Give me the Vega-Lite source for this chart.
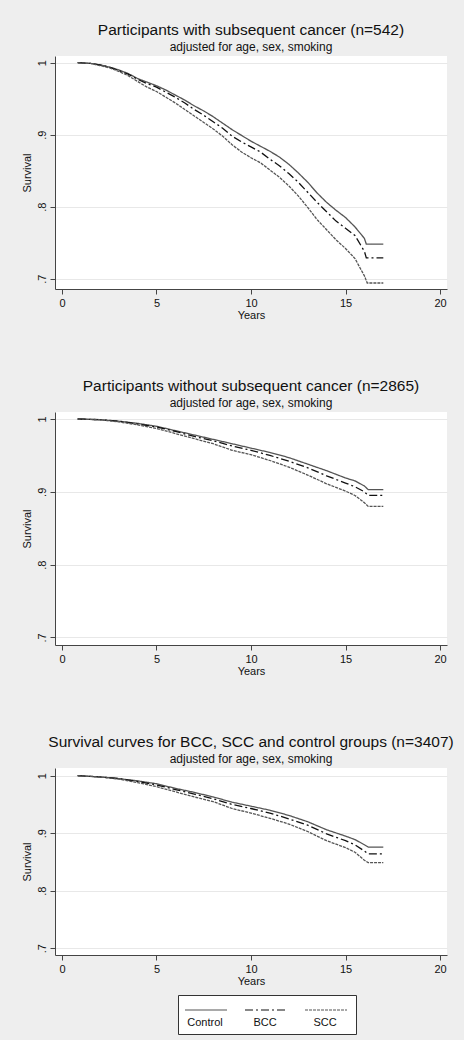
{
"$schema":"https://vega.github.io/schema/vega-lite/v6.json",
"padding":{"left":21,"top":22,"right":10,"bottom":5},
"spacing":58,
"datasets":{"km":[
{"p":1,"g":"Control","t":0.83,"s":1.0},{"p":1,"g":"Control","t":1.5,"s":0.999},{"p":1,"g":"Control","t":2,"s":0.997},{"p":1,"g":"Control","t":2.5,"s":0.994},{"p":1,"g":"Control","t":3,"s":0.99},{"p":1,"g":"Control","t":3.5,"s":0.985},{"p":1,"g":"Control","t":4,"s":0.978},{"p":1,"g":"Control","t":4.5,"s":0.973},{"p":1,"g":"Control","t":5,"s":0.968},{"p":1,"g":"Control","t":5.5,"s":0.962},{"p":1,"g":"Control","t":6,"s":0.955},{"p":1,"g":"Control","t":6.5,"s":0.948},{"p":1,"g":"Control","t":7,"s":0.94},{"p":1,"g":"Control","t":7.5,"s":0.933},{"p":1,"g":"Control","t":8,"s":0.925},{"p":1,"g":"Control","t":8.5,"s":0.916},{"p":1,"g":"Control","t":9,"s":0.907},{"p":1,"g":"Control","t":9.5,"s":0.899},{"p":1,"g":"Control","t":10,"s":0.891},{"p":1,"g":"Control","t":10.5,"s":0.884},{"p":1,"g":"Control","t":11,"s":0.877},{"p":1,"g":"Control","t":11.5,"s":0.869},{"p":1,"g":"Control","t":12,"s":0.859},{"p":1,"g":"Control","t":12.5,"s":0.847},{"p":1,"g":"Control","t":13,"s":0.834},{"p":1,"g":"Control","t":13.5,"s":0.819},{"p":1,"g":"Control","t":14,"s":0.806},{"p":1,"g":"Control","t":14.5,"s":0.795},{"p":1,"g":"Control","t":15,"s":0.785},{"p":1,"g":"Control","t":15.5,"s":0.772},{"p":1,"g":"Control","t":16,"s":0.756},{"p":1,"g":"Control","t":16.1,"s":0.748},{"p":1,"g":"Control","t":17,"s":0.748},
{"p":1,"g":"BCC","t":0.83,"s":1.0},{"p":1,"g":"BCC","t":1.5,"s":0.999},{"p":1,"g":"BCC","t":2,"s":0.997},{"p":1,"g":"BCC","t":2.5,"s":0.994},{"p":1,"g":"BCC","t":3,"s":0.989},{"p":1,"g":"BCC","t":3.5,"s":0.984},{"p":1,"g":"BCC","t":4,"s":0.977},{"p":1,"g":"BCC","t":4.5,"s":0.971},{"p":1,"g":"BCC","t":5,"s":0.966},{"p":1,"g":"BCC","t":5.5,"s":0.959},{"p":1,"g":"BCC","t":6,"s":0.952},{"p":1,"g":"BCC","t":6.5,"s":0.944},{"p":1,"g":"BCC","t":7,"s":0.935},{"p":1,"g":"BCC","t":7.5,"s":0.927},{"p":1,"g":"BCC","t":8,"s":0.918},{"p":1,"g":"BCC","t":8.5,"s":0.909},{"p":1,"g":"BCC","t":9,"s":0.898},{"p":1,"g":"BCC","t":9.5,"s":0.89},{"p":1,"g":"BCC","t":10,"s":0.883},{"p":1,"g":"BCC","t":10.5,"s":0.876},{"p":1,"g":"BCC","t":11,"s":0.866},{"p":1,"g":"BCC","t":11.5,"s":0.857},{"p":1,"g":"BCC","t":12,"s":0.846},{"p":1,"g":"BCC","t":12.5,"s":0.834},{"p":1,"g":"BCC","t":13,"s":0.82},{"p":1,"g":"BCC","t":13.5,"s":0.806},{"p":1,"g":"BCC","t":14,"s":0.793},{"p":1,"g":"BCC","t":14.5,"s":0.78},{"p":1,"g":"BCC","t":15,"s":0.77},{"p":1,"g":"BCC","t":15.5,"s":0.76},{"p":1,"g":"BCC","t":16,"s":0.738},{"p":1,"g":"BCC","t":16.1,"s":0.729},{"p":1,"g":"BCC","t":17,"s":0.729},
{"p":1,"g":"SCC","t":0.83,"s":1.0},{"p":1,"g":"SCC","t":1.5,"s":0.999},{"p":1,"g":"SCC","t":2,"s":0.996},{"p":1,"g":"SCC","t":2.5,"s":0.993},{"p":1,"g":"SCC","t":3,"s":0.988},{"p":1,"g":"SCC","t":3.5,"s":0.982},{"p":1,"g":"SCC","t":4,"s":0.974},{"p":1,"g":"SCC","t":4.5,"s":0.966},{"p":1,"g":"SCC","t":5,"s":0.96},{"p":1,"g":"SCC","t":5.5,"s":0.952},{"p":1,"g":"SCC","t":6,"s":0.944},{"p":1,"g":"SCC","t":6.5,"s":0.935},{"p":1,"g":"SCC","t":7,"s":0.926},{"p":1,"g":"SCC","t":7.5,"s":0.917},{"p":1,"g":"SCC","t":8,"s":0.908},{"p":1,"g":"SCC","t":8.5,"s":0.898},{"p":1,"g":"SCC","t":9,"s":0.886},{"p":1,"g":"SCC","t":9.5,"s":0.876},{"p":1,"g":"SCC","t":10,"s":0.868},{"p":1,"g":"SCC","t":10.5,"s":0.861},{"p":1,"g":"SCC","t":11,"s":0.851},{"p":1,"g":"SCC","t":11.5,"s":0.841},{"p":1,"g":"SCC","t":12,"s":0.829},{"p":1,"g":"SCC","t":12.5,"s":0.815},{"p":1,"g":"SCC","t":13,"s":0.799},{"p":1,"g":"SCC","t":13.5,"s":0.782},{"p":1,"g":"SCC","t":14,"s":0.768},{"p":1,"g":"SCC","t":14.5,"s":0.754},{"p":1,"g":"SCC","t":15,"s":0.742},{"p":1,"g":"SCC","t":15.5,"s":0.728},{"p":1,"g":"SCC","t":16,"s":0.704},{"p":1,"g":"SCC","t":16.15,"s":0.694},{"p":1,"g":"SCC","t":17,"s":0.694},
{"p":2,"g":"Control","t":0.83,"s":1.0},{"p":2,"g":"Control","t":2,"s":0.999},{"p":2,"g":"Control","t":3,"s":0.997},{"p":2,"g":"Control","t":4,"s":0.994},{"p":2,"g":"Control","t":5,"s":0.99},{"p":2,"g":"Control","t":6,"s":0.984},{"p":2,"g":"Control","t":7,"s":0.978},{"p":2,"g":"Control","t":8,"s":0.972},{"p":2,"g":"Control","t":9,"s":0.966},{"p":2,"g":"Control","t":10,"s":0.96},{"p":2,"g":"Control","t":11,"s":0.954},{"p":2,"g":"Control","t":12,"s":0.947},{"p":2,"g":"Control","t":13,"s":0.938},{"p":2,"g":"Control","t":14,"s":0.929},{"p":2,"g":"Control","t":15,"s":0.919},{"p":2,"g":"Control","t":15.5,"s":0.915},{"p":2,"g":"Control","t":16,"s":0.908},{"p":2,"g":"Control","t":16.2,"s":0.903},{"p":2,"g":"Control","t":17,"s":0.903},
{"p":2,"g":"BCC","t":0.83,"s":1.0},{"p":2,"g":"BCC","t":2,"s":0.999},{"p":2,"g":"BCC","t":3,"s":0.997},{"p":2,"g":"BCC","t":4,"s":0.993},{"p":2,"g":"BCC","t":5,"s":0.989},{"p":2,"g":"BCC","t":6,"s":0.983},{"p":2,"g":"BCC","t":7,"s":0.976},{"p":2,"g":"BCC","t":8,"s":0.97},{"p":2,"g":"BCC","t":9,"s":0.963},{"p":2,"g":"BCC","t":10,"s":0.957},{"p":2,"g":"BCC","t":11,"s":0.95},{"p":2,"g":"BCC","t":12,"s":0.942},{"p":2,"g":"BCC","t":13,"s":0.933},{"p":2,"g":"BCC","t":14,"s":0.922},{"p":2,"g":"BCC","t":15,"s":0.912},{"p":2,"g":"BCC","t":15.5,"s":0.907},{"p":2,"g":"BCC","t":16,"s":0.9},{"p":2,"g":"BCC","t":16.2,"s":0.895},{"p":2,"g":"BCC","t":17,"s":0.895},
{"p":2,"g":"SCC","t":0.83,"s":1.0},{"p":2,"g":"SCC","t":2,"s":0.999},{"p":2,"g":"SCC","t":3,"s":0.996},{"p":2,"g":"SCC","t":4,"s":0.992},{"p":2,"g":"SCC","t":5,"s":0.987},{"p":2,"g":"SCC","t":6,"s":0.98},{"p":2,"g":"SCC","t":7,"s":0.973},{"p":2,"g":"SCC","t":8,"s":0.966},{"p":2,"g":"SCC","t":9,"s":0.957},{"p":2,"g":"SCC","t":10,"s":0.951},{"p":2,"g":"SCC","t":11,"s":0.943},{"p":2,"g":"SCC","t":12,"s":0.934},{"p":2,"g":"SCC","t":13,"s":0.923},{"p":2,"g":"SCC","t":14,"s":0.911},{"p":2,"g":"SCC","t":15,"s":0.901},{"p":2,"g":"SCC","t":15.5,"s":0.895},{"p":2,"g":"SCC","t":16,"s":0.885},{"p":2,"g":"SCC","t":16.2,"s":0.88},{"p":2,"g":"SCC","t":17,"s":0.88},
{"p":3,"g":"Control","t":0.83,"s":1.0},{"p":3,"g":"Control","t":2,"s":0.998},{"p":3,"g":"Control","t":3,"s":0.995},{"p":3,"g":"Control","t":4,"s":0.991},{"p":3,"g":"Control","t":5,"s":0.986},{"p":3,"g":"Control","t":6,"s":0.978},{"p":3,"g":"Control","t":7,"s":0.971},{"p":3,"g":"Control","t":8,"s":0.963},{"p":3,"g":"Control","t":9,"s":0.954},{"p":3,"g":"Control","t":10,"s":0.947},{"p":3,"g":"Control","t":11,"s":0.94},{"p":3,"g":"Control","t":12,"s":0.931},{"p":3,"g":"Control","t":13,"s":0.92},{"p":3,"g":"Control","t":14,"s":0.906},{"p":3,"g":"Control","t":15,"s":0.895},{"p":3,"g":"Control","t":15.5,"s":0.889},{"p":3,"g":"Control","t":16,"s":0.88},{"p":3,"g":"Control","t":16.2,"s":0.876},{"p":3,"g":"Control","t":17,"s":0.876},
{"p":3,"g":"BCC","t":0.83,"s":1.0},{"p":3,"g":"BCC","t":2,"s":0.998},{"p":3,"g":"BCC","t":3,"s":0.995},{"p":3,"g":"BCC","t":4,"s":0.99},{"p":3,"g":"BCC","t":5,"s":0.984},{"p":3,"g":"BCC","t":6,"s":0.976},{"p":3,"g":"BCC","t":7,"s":0.968},{"p":3,"g":"BCC","t":8,"s":0.96},{"p":3,"g":"BCC","t":9,"s":0.95},{"p":3,"g":"BCC","t":10,"s":0.943},{"p":3,"g":"BCC","t":11,"s":0.935},{"p":3,"g":"BCC","t":12,"s":0.925},{"p":3,"g":"BCC","t":13,"s":0.914},{"p":3,"g":"BCC","t":14,"s":0.899},{"p":3,"g":"BCC","t":15,"s":0.887},{"p":3,"g":"BCC","t":15.5,"s":0.88},{"p":3,"g":"BCC","t":16,"s":0.869},{"p":3,"g":"BCC","t":16.2,"s":0.864},{"p":3,"g":"BCC","t":17,"s":0.864},
{"p":3,"g":"SCC","t":0.83,"s":1.0},{"p":3,"g":"SCC","t":2,"s":0.998},{"p":3,"g":"SCC","t":3,"s":0.994},{"p":3,"g":"SCC","t":4,"s":0.988},{"p":3,"g":"SCC","t":5,"s":0.981},{"p":3,"g":"SCC","t":6,"s":0.972},{"p":3,"g":"SCC","t":7,"s":0.963},{"p":3,"g":"SCC","t":8,"s":0.955},{"p":3,"g":"SCC","t":9,"s":0.943},{"p":3,"g":"SCC","t":10,"s":0.935},{"p":3,"g":"SCC","t":11,"s":0.926},{"p":3,"g":"SCC","t":12,"s":0.916},{"p":3,"g":"SCC","t":13,"s":0.903},{"p":3,"g":"SCC","t":14,"s":0.887},{"p":3,"g":"SCC","t":15,"s":0.875},{"p":3,"g":"SCC","t":15.5,"s":0.867},{"p":3,"g":"SCC","t":16,"s":0.853},{"p":3,"g":"SCC","t":16.2,"s":0.849},{"p":3,"g":"SCC","t":17,"s":0.849}
]},
"resolve":{"scale":{"color":"independent","strokeDash":"independent","x":"independent","y":"independent"},"legend":{"color":"independent","strokeDash":"independent"}},
"vconcat":[
{"width":392,"height":233,"data":{"name":"km"},
 "title":{"text":"Participants with subsequent cancer (n=542)","subtitle":"adjusted for age, sex, smoking"},
 "transform":[{"filter":"datum.p == 1"}],
 "mark":{"type":"line","strokeWidth":1.3},
 "encoding":{
  "x":{"field":"t","type":"quantitative","scale":{"domain":[-0.37,20.37],"nice":false,"zero":false},"axis":{"values":[0,5,10,15,20],"title":"Years","grid":false}},
  "y":{"field":"s","type":"quantitative","scale":{"domain":[0.6857,1.0093],"nice":false,"zero":false},"axis":{"values":[0.7,0.8,0.9,1],"title":"Survival","labelExpr":"datum.value >= 1 ? '1' : '.' + round(datum.value*10)"}},
  "color":{"field":"g","type":"nominal","scale":{"domain":["Control","BCC","SCC"],"range":["#555555","#111111","#555555"]},"legend":null},
  "strokeDash":{"field":"g","type":"nominal","scale":{"domain":["Control","BCC","SCC"],"range":[[1,0],[8,3,2,3],[3,1]]},"legend":null}
 }},
{"width":392,"height":233,"data":{"name":"km"},
 "title":{"text":"Participants without subsequent cancer (n=2865)","subtitle":"adjusted for age, sex, smoking"},
 "transform":[{"filter":"datum.p == 2"}],
 "mark":{"type":"line","strokeWidth":1.3},
 "encoding":{
  "x":{"field":"t","type":"quantitative","scale":{"domain":[-0.37,20.37],"nice":false,"zero":false},"axis":{"values":[0,5,10,15,20],"title":"Years","grid":false}},
  "y":{"field":"s","type":"quantitative","scale":{"domain":[0.6896,1.0096],"nice":false,"zero":false},"axis":{"values":[0.7,0.8,0.9,1],"title":"Survival","labelExpr":"datum.value >= 1 ? '1' : '.' + round(datum.value*10)"}},
  "color":{"field":"g","type":"nominal","scale":{"domain":["Control","BCC","SCC"],"range":["#555555","#111111","#555555"]},"legend":null},
  "strokeDash":{"field":"g","type":"nominal","scale":{"domain":["Control","BCC","SCC"],"range":[[1,0],[8,3,2,3],[3,1]]},"legend":null}
 }},
{"width":392,"height":187,"data":{"name":"km"},
 "title":{"text":"Survival curves for BCC, SCC and control groups (n=3407)","subtitle":"adjusted for age, sex, smoking"},
 "transform":[{"filter":"datum.p == 3"}],
 "mark":{"type":"line","strokeWidth":1.3},
 "encoding":{
  "x":{"field":"t","type":"quantitative","scale":{"domain":[-0.37,20.37],"nice":false,"zero":false},"axis":{"values":[0,5,10,15,20],"title":"Years","grid":false}},
  "y":{"field":"s","type":"quantitative","scale":{"domain":[0.6883,1.0134],"nice":false,"zero":false},"axis":{"values":[0.7,0.8,0.9,1],"title":"Survival","labelExpr":"datum.value >= 1 ? '1' : '.' + round(datum.value*10)"}},
  "color":{"field":"g","type":"nominal","scale":{"domain":["Control","BCC","SCC"],"range":["#555555","#111111","#555555"]},"legend":{"title":null,"orient":"none","legendX":123,"legendY":227,"direction":"horizontal","symbolType":"stroke","symbolSize":1764,"symbolStrokeWidth":1.2,"labelAlign":"center","labelBaseline":"middle","labelOffset":-23,"labelFontSize":11,"labelColor":"#111","fillColor":"white","strokeColor":"#333","padding":6,"columnPadding":12,"encode":{"symbols":{"update":{"y":{"value":9}}},"labels":{"update":{"y":{"value":22}}}}}},
  "strokeDash":{"field":"g","type":"nominal","scale":{"domain":["Control","BCC","SCC"],"range":[[1,0],[8,3,2,3],[3,1]]},"legend":{"title":null,"orient":"none","legendX":123,"legendY":227,"direction":"horizontal","symbolType":"stroke","symbolSize":1764,"symbolStrokeWidth":1.2,"labelAlign":"center","labelBaseline":"middle","labelOffset":-23,"labelFontSize":11,"labelColor":"#111","fillColor":"white","strokeColor":"#333","padding":6,"columnPadding":12,"encode":{"symbols":{"update":{"y":{"value":9}}},"labels":{"update":{"y":{"value":22}}}}}}
 }}
],
"config":{
 "font":"Liberation Sans",
 "background":"#eeeeee",
 "view":{"fill":"white","stroke":null},
 "axis":{"domainColor":"#444","tickColor":"#444","labelColor":"#111","titleColor":"#111","labelFontSize":11,"titleFontSize":11,"titleFontWeight":"normal","gridColor":"#e8e8e8","tickSize":5},
 "axisX":{"labelPadding":3,"titlePadding":1},
 "axisY":{"labelAngle":-90,"labelPadding":3,"titlePadding":4},
 "title":{"fontSize":15.5,"fontWeight":"normal","subtitleFontSize":12,"color":"#111","subtitleColor":"#111","anchor":"middle","frame":"group","subtitlePadding":4,"offset":3}
}
}
